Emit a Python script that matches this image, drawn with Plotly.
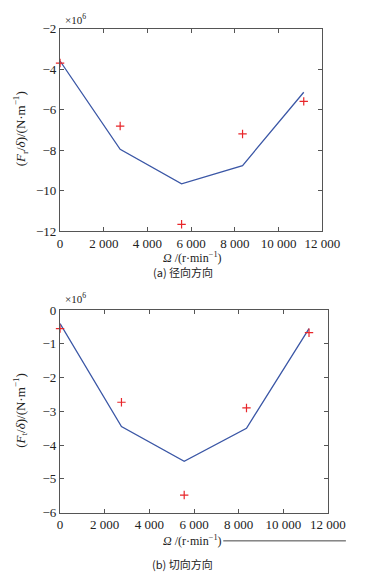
import plotly.graph_objects as go

# data
speed = [0, 2750, 5560, 8350, 11150]
radial_calc = [-3.6, -7.96, -9.66, -8.76, -5.14]
radial_exp = [-3.7, -6.81, -11.66, -7.2, -5.59]
tang_calc = [-0.4, -3.45, -4.48, -3.5, -0.55]
tang_exp = [-0.55, -2.73, -5.48, -2.9, -0.67]

x_ticks = [0, 2000, 4000, 6000, 8000, 10000, 12000]
x_ticktext = ["0", "2 000", "4 000", "6 000", "8 000", "10 000", "12 000"]
yr_ticks = [-2, -4, -6, -8, -10, -12]
yt_ticks = [0, -1, -2, -3, -4, -5, -6]

# page body has an 8px margin; figure sized to fit the window
OFF = 8
W, H = 379 - OFF, 581 - OFF
line_col = "#3b57a6"
mark_col = "#e8262a"
frame_col = "#555555"
SERIF = "'Times New Roman', 'Liberation Serif', serif"
font = dict(family=SERIF, size=13, color="#222")

def px(x):
    return (x - OFF) / W

def py(y):
    return 1 - (y - OFF) / H

fig = go.Figure()
fig.add_trace(go.Scatter(x=speed, y=radial_calc, mode="lines", line=dict(color=line_col, width=1.3),
                         xaxis="x", yaxis="y", showlegend=False))
fig.add_trace(go.Scatter(x=speed, y=radial_exp, mode="markers",
                         marker=dict(symbol="cross-thin", size=6, line=dict(color=mark_col, width=1.2)),
                         xaxis="x", yaxis="y", showlegend=False, cliponaxis=False))
fig.add_trace(go.Scatter(x=speed, y=tang_calc, mode="lines", line=dict(color=line_col, width=1.3),
                         xaxis="x2", yaxis="y2", showlegend=False))
fig.add_trace(go.Scatter(x=speed, y=tang_exp, mode="markers",
                         marker=dict(symbol="cross-thin", size=6, line=dict(color=mark_col, width=1.2)),
                         xaxis="x2", yaxis="y2", showlegend=False, cliponaxis=False))

axcommon = dict(showline=True, mirror="ticks", linecolor=frame_col, linewidth=1.2,
                ticks="inside", ticklen=4, tickcolor=frame_col, showgrid=False, zeroline=False,
                tickfont=dict(family=SERIF, size=13, color="#222"))

fig.update_layout(
    width=W, height=H, margin=dict(l=0, r=0, t=0, b=0),
    paper_bgcolor="white", plot_bgcolor="white", font=font,
    xaxis=dict(domain=[px(60), px(338)], range=[0, 12000], tickvals=x_ticks, ticktext=x_ticktext,
               anchor="y", **axcommon),
    yaxis=dict(domain=[py(230), py(22)], range=[-12, -2], tickvals=yr_ticks,
               anchor="x", **axcommon),
    xaxis2=dict(domain=[px(60), px(344)], range=[0, 12000], tickvals=x_ticks, ticktext=x_ticktext,
                anchor="y2", **axcommon),
    yaxis2=dict(domain=[py(519), py(311)], range=[-6, 0], tickvals=yt_ticks,
                anchor="x2", **axcommon),
)

def ann(text, x, y, size=13, angle=0, fam=SERIF):
    fig.add_annotation(text=text, x=px(x), y=py(y), xref="paper", yref="paper",
                       showarrow=False, textangle=angle,
                       font=dict(family=fam, size=size, color="#222"),
                       xanchor="center", yanchor="middle")

ann("×10<sup>6</sup>", 76, 12, 11)
ann("×10<sup>6</sup>", 76, 299, 11)
ann("(<i>F</i><sub>r</sub>/<i>δ</i>)/(N·m<sup>−1</sup>)", 18, 125, 13, angle=-90)
ann("(<i>F</i><sub>t</sub>/<i>δ</i>)/(N·m<sup>−1</sup>)", 18, 414, 13, angle=-90)
ann("<i>Ω</i> /(r·min<sup>−1</sup>)", 200, 257, 12)
ann("<i>Ω</i> /(r·min<sup>−1</sup>)", 200, 548, 12)
ann("(a) 径向方向", 190, 272, 11, fam="Noto Sans CJK SC")
ann("(b) 切向方向", 190, 572, 11, fam="Noto Sans CJK SC")

fig.add_shape(type="line", xref="paper", yref="paper", x0=px(233), x1=px(363),
              y0=py(548), y1=py(548), line=dict(color="#444", width=1))

fig.write_html("out.html")
